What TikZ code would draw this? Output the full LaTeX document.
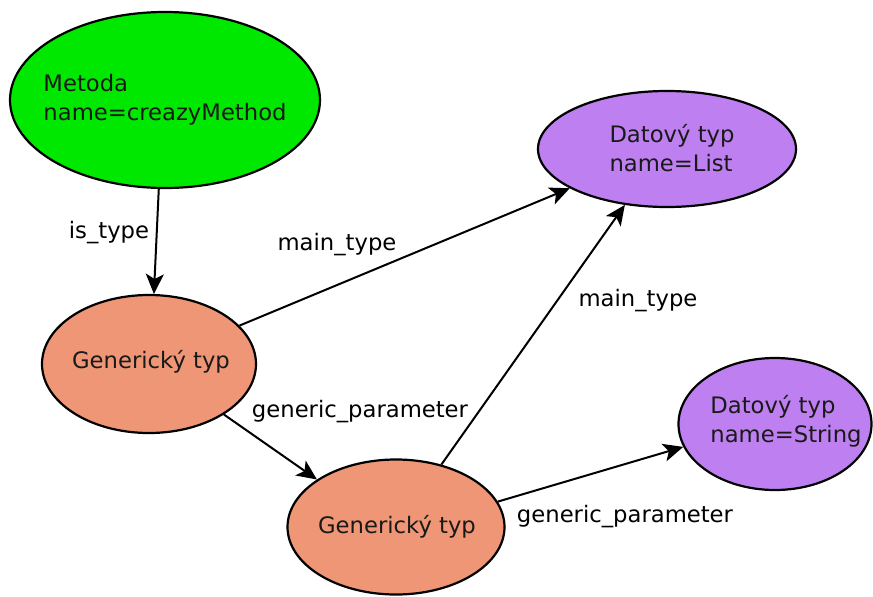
\documentclass[tikz,border=0pt]{standalone}
\usepackage{fontspec}
\setmainfont{DejaVu Sans}
\usetikzlibrary{shapes.geometric,arrows.meta}
\definecolor{methodgreen}{RGB}{0,232,0}
\definecolor{genorange}{RGB}{238,150,118}
\definecolor{typepurple}{RGB}{190,128,240}
\tikzset{
  blob/.style={ellipse, draw=black, line width=2.2pt, inner sep=0pt},
  txt/.style={font=\fontsize{22.7}{29}\selectfont, text=black!90, align=left, inner sep=0pt},
  rel/.style={line width=2pt, -{Stealth[length=20pt,width=18pt,inset=5pt]}},
  rellabel/.style={font=\fontsize{22.7}{29}\selectfont, inner sep=0pt}
}
\begin{document}
\begin{tikzpicture}[x=1pt,y=-1pt]
\useasboundingbox (0,0) rectangle (873,597);

% vertices
\node[blob, fill=methodgreen, minimum width=310pt, minimum height=176pt] (met) at (165,100) {};
\node[txt] (mett) at (met) {Metoda\\name=creazyMethod};

\node[blob, fill=typepurple, minimum width=258pt, minimum height=116pt] (list) at (667,149) {};
\node[txt] (listt) at (672,148) {Datový typ\\name=List};

\node[blob, fill=genorange, minimum width=214pt, minimum height=138pt] (gen1) at (149,364) {};
\node[txt] (gen1t) at (151,362) {Generický typ};

\node[blob, fill=genorange, minimum width=217pt, minimum height=135pt] (gen2) at (396,527) {};
\node[txt] (gen2t) at (397,527) {Generický typ};

\node[blob, fill=typepurple, minimum width=193pt, minimum height=132pt] (str) at (775,424) {};
\node[txt] (strt) at (786,421) {Datový typ\\name=String};

% relations
\draw[rel] (met.266) -- (gen1.86);
\draw[rel] (gen1.23) -- (list.202);
\draw[rel] (gen1.326) -- (gen2.149);
\draw[rel] (gen2.54) -- (list.233.5);
\draw[rel] (gen2.14) -- (str.194);

% relation labels
\node[rellabel] (l1) at (109,233) {is\_type};
\node[rellabel] (l2) at (337,245) {main\_type};
\node[rellabel] (l3) at (360,412) {generic\_parameter};
\node[rellabel] (l4) at (638,301) {main\_type};
\node[rellabel] (l5) at (625,517) {generic\_parameter};
\end{tikzpicture}
\end{document}
